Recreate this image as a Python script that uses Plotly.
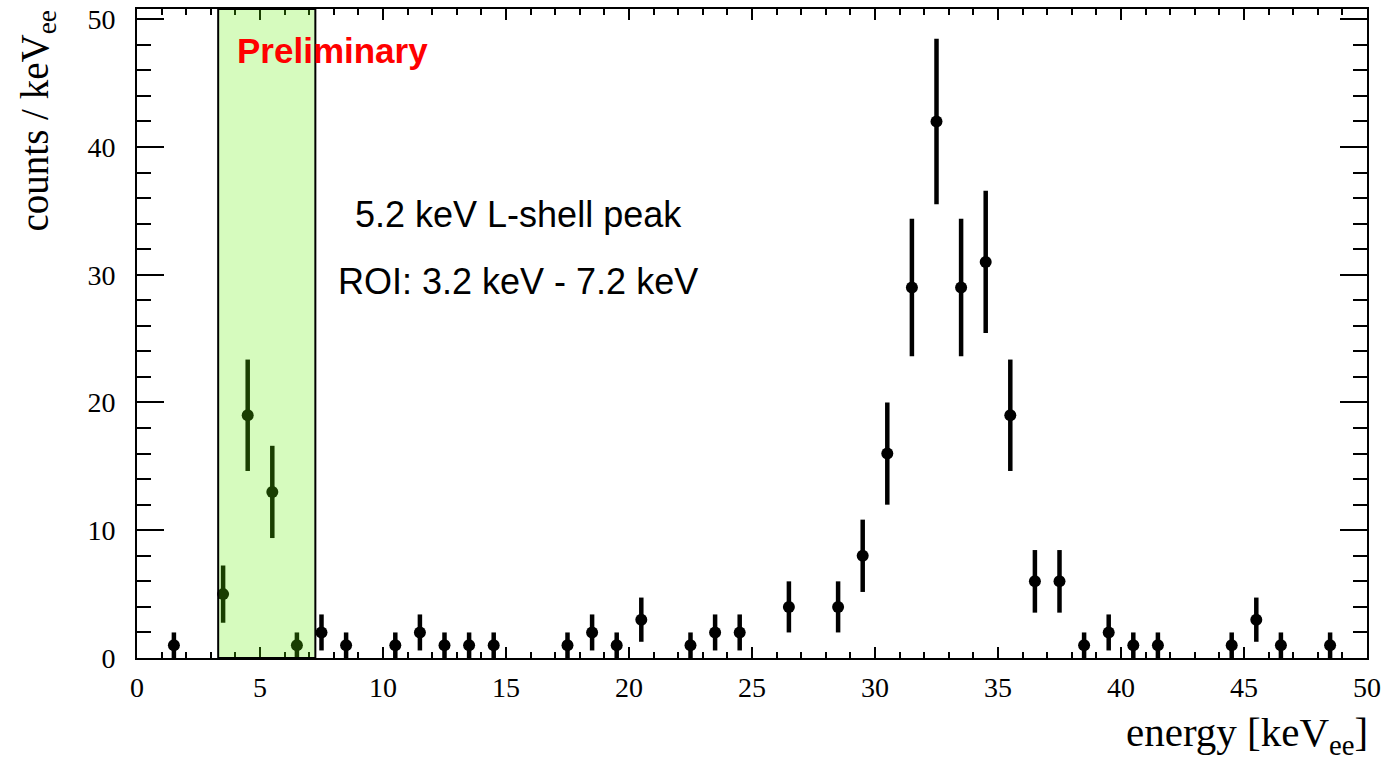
import plotly.graph_objects as go

# Data (bin centres in keV_ee, counts per keV_ee, statistical errors)
energy = [1.5, 3.5, 4.5, 5.5, 6.5, 7.5, 8.5, 10.5, 11.5, 12.5, 13.5, 14.5,
          17.5, 18.5, 19.5, 20.5, 22.5, 23.5, 24.5, 26.5, 28.5, 29.5, 30.5,
          31.5, 32.5, 33.5, 34.5, 35.5, 36.5, 37.5, 38.5, 39.5, 40.5, 41.5,
          44.5, 45.5, 46.5, 48.5]
counts = [1, 5, 19, 13, 1, 2, 1, 1, 2, 1, 1, 1,
          1, 2, 1, 3, 1, 2, 2, 4, 4, 8, 16,
          29, 42, 29, 31, 19, 6, 6, 1, 2, 1, 1,
          1, 3, 1, 1]
errors = [1.0, 2.24, 4.36, 3.61, 1.0, 1.41, 1.0, 1.0, 1.41, 1.0, 1.0, 1.0,
          1.0, 1.41, 1.0, 1.73, 1.0, 1.41, 1.41, 2.0, 2.0, 2.83, 4.0,
          5.39, 6.48, 5.39, 5.57, 4.36, 2.45, 2.45, 1.0, 1.41, 1.0, 1.0,
          1.0, 1.73, 1.0, 1.0]
roi = [3.3, 7.25]

W, H = 1384, 762
ML, MR, MT, MB = 137, 17, 9, 104
X_RANGE = [0, 50]
Y_RANGE = [0, 50.8]
serif = "Liberation Serif, Times New Roman, serif"
sans = "Liberation Sans, Arial, Helvetica, sans-serif"

fig = go.Figure()
fig.add_trace(go.Scatter(
    x=energy, y=counts, mode="markers",
    marker=dict(color="black", size=12),
    error_y=dict(type="data", array=errors, visible=True, color="black",
                 thickness=4.5, width=0),
    showlegend=False,
))

fig.add_shape(type="rect", xref="x", yref="y", x0=roi[0], x1=roi[1],
              y0=Y_RANGE[0], y1=Y_RANGE[1], layer="above",
              fillcolor="rgba(98,240,5,0.26)",
              line=dict(color="black", width=2))

ph = H - MT - MB
def py(p):
    return (H - MB - p) / ph

def px(p):
    return (p - ML) / (W - ML - MR)

fig.add_annotation(text="<b>Preliminary</b>", x=px(332), y=py(50), xref="paper", yref="paper",
                   xanchor="center", yanchor="middle",
                   showarrow=False, font=dict(family=sans, size=35, color="red"))
fig.add_annotation(text="5.2 keV L-shell peak", x=px(518), y=py(214), xref="paper", yref="paper",
                   xanchor="center", yanchor="middle",
                   showarrow=False, font=dict(family=sans, size=36, color="black"))
fig.add_annotation(text="ROI: 3.2 keV - 7.2 keV", x=px(518), y=py(281), xref="paper", yref="paper",
                   xanchor="center", yanchor="middle",
                   showarrow=False, font=dict(family=sans, size=36, color="black"))
fig.add_annotation(text="energy [keV<sub>ee</sub>]", x=px(1370), y=py(707), xref="paper", yref="paper",
                   xanchor="right", yanchor="top", showarrow=False,
                   font=dict(family=serif, size=41, color="black"))
fig.add_annotation(text="counts / keV<sub>ee</sub>", x=px(37), y=1.0, xref="paper", yref="paper",
                   xanchor="center", yanchor="top", textangle=-90, showarrow=False,
                   font=dict(family=serif, size=39, color="black"))

axis_common = dict(showline=True, linecolor="black", linewidth=2, mirror="ticks",
                   ticks="inside", tickcolor="black", tickwidth=2,
                   showgrid=False, zeroline=False, automargin=False,
                   tickfont=dict(family=serif, size=28, color="black"))

fig.update_xaxes(range=X_RANGE, dtick=5, tick0=0, ticklen=11, ticklabelstandoff=3,
                 minor=dict(dtick=1, ticks="inside", ticklen=6, tickcolor="black", tickwidth=2,
                            showgrid=False),
                 **axis_common)
fig.update_yaxes(range=Y_RANGE, dtick=10, tick0=0, ticklen=27, ticklabelstandoff=14,
                 minor=dict(dtick=2, ticks="inside", ticklen=14, tickcolor="black", tickwidth=2,
                            showgrid=False),
                 **axis_common)

fig.update_layout(width=W, height=H, margin=dict(l=ML, r=MR, t=MT, b=MB),
                  plot_bgcolor="white", paper_bgcolor="white")

fig.write_html("out.html")
